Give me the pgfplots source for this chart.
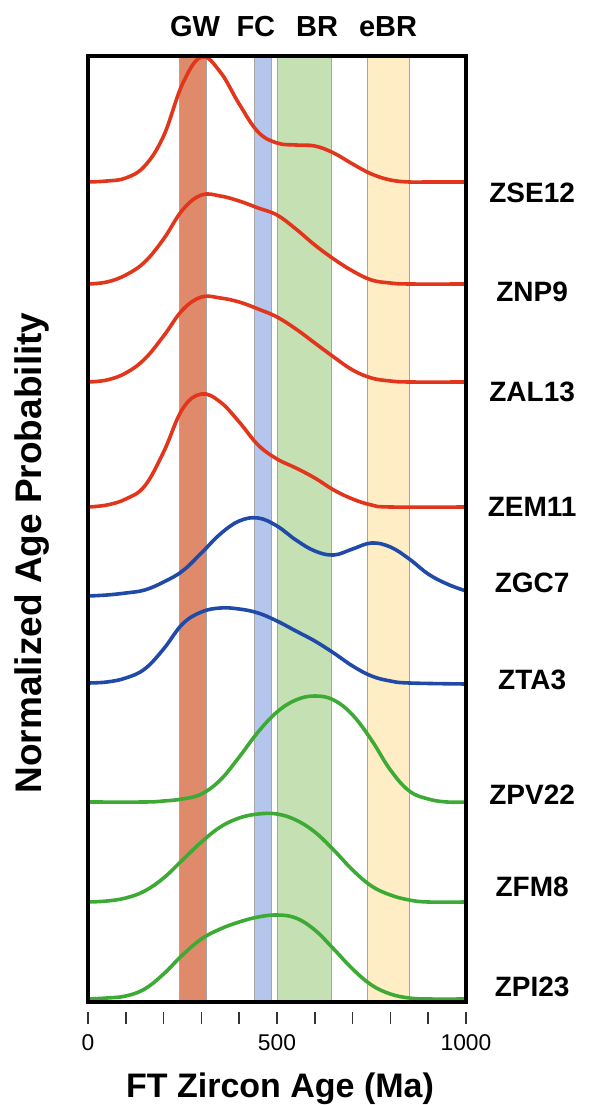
\documentclass[border=0pt]{standalone}
\usepackage{fontspec}
\setmainfont{Liberation Sans}
\usepackage{pgfplots}
\pgfplotsset{compat=1.18}

\definecolor{curvered}{HTML}{E2361C}
\definecolor{curveblue}{HTML}{1F4AA8}
\definecolor{curvegreen}{HTML}{3DAA35}
\definecolor{bandGW}{HTML}{E08A6C}
\definecolor{bandFC}{HTML}{B4C6EC}
\definecolor{bandBR}{HTML}{C5E1B4}
\definecolor{bandeBR}{HTML}{FFEDC6}

\begin{document}
\begin{tikzpicture}
\begin{axis}[
    scale only axis,
    width=189pt, height=473pt,
    xmin=0, xmax=1000, ymin=0, ymax=946,
    axis line style={line width=1.6pt},
    xtick={0,100,...,1000},
    xticklabels={0,,,,,500,,,,,1000},
    xtick pos=lower,
    ytick=\empty,
    tick align=outside,
    major tick length=6pt,
    xtick style={line width=0.8pt, black!80, yshift=-5pt},
    xticklabel style={font=\fontsize{11.4}{12}\selectfont, yshift=-7pt},
    clip=false,
    axis on top,
    curve/.style={smooth, tension=0.65, line width=1.8pt, no markers},
    band/.style={draw=black!35, line width=0.4pt},
]
% age bands
\addplot[band, fill=bandGW] coordinates {(243,0) (243,946) (312,946) (312,0)} -- cycle;
\addplot[band, fill=bandFC] coordinates {(439,0) (439,946) (484,946) (484,0)} -- cycle;
\addplot[band, fill=bandBR] coordinates {(500,0) (500,946) (643,946) (643,0)} -- cycle;
\addplot[band, fill=bandeBR] coordinates {(738,0) (738,946) (849,946) (849,0)} -- cycle;

% ZSE12
\addplot[curve, curvered] coordinates {
 (0,820) (50,821) (100,824) (150,836) (200,866) (250,918) (300,945) (350,930)
 (400,898) (450,870) (500,859) (550,857) (600,856) (650,849) (700,838) (750,828)
 (800,822) (850,820) (900,820) (1000,820)};
% ZNP9
\addplot[curve, curvered] coordinates {
 (0,718) (50,720) (100,727) (150,740) (200,763) (250,792) (300,807) (350,806)
 (400,801) (450,794) (500,787) (550,773) (600,757) (650,743) (700,731) (750,722)
 (800,719) (850,718) (1000,718)};
% ZAL13
\addplot[curve, curvered] coordinates {
 (0,620) (50,622) (100,629) (150,643) (200,666) (250,692) (300,705) (350,704)
 (400,700) (450,693) (500,685) (550,673) (600,659) (650,645) (700,632) (750,624)
 (800,621) (850,620) (1000,620)};
% ZEM11
\addplot[curve, curvered] coordinates {
 (0,495) (50,497) (100,503) (150,516) (200,550) (250,593) (300,608) (350,600)
 (400,580) (450,557) (500,543) (550,534) (600,524) (650,512) (700,503) (750,497)
 (800,495) (1000,495)};
% ZGC7
\addplot[curve, curveblue] coordinates {
 (0,406) (50,407) (100,409) (150,412) (200,420) (250,431) (300,449) (350,468)
 (400,481) (450,484) (500,476) (550,462) (600,451) (650,447) (700,453) (750,459)
 (800,455) (850,443) (900,428) (950,418) (1000,411)};
% ZTA3
\addplot[curve, curveblue] coordinates {
 (0,319) (50,320) (100,324) (150,333) (200,353) (250,378) (300,390) (350,394)
 (400,393) (450,389) (500,381) (550,371) (600,361) (650,349) (700,336) (750,326)
 (800,321) (850,319) (1000,318)};
% ZPV22
\addplot[curve, curvegreen] coordinates {
 (0,200) (150,200) (200,201) (250,203) (300,208) (350,222) (400,245) (450,270)
 (500,290) (550,302) (600,306) (650,302) (700,287) (750,262) (800,232) (850,211)
 (900,203) (950,200) (1000,200)};
% ZFM8
\addplot[curve, curvegreen] coordinates {
 (0,100) (50,101) (100,104) (150,111) (200,124) (250,142) (300,160) (350,175)
 (400,184) (450,188) (500,188) (550,182) (600,170) (650,152) (700,132) (750,116)
 (800,107) (850,102) (900,100) (1000,100)};
% ZPI23
\addplot[curve, curvegreen] coordinates {
 (0,3) (50,4) (100,6) (150,13) (200,28) (250,47) (300,63) (350,73)
 (400,80) (450,85) (500,87) (550,84) (600,72) (650,53) (700,33) (750,17)
 (800,8) (850,4) (900,3) (1000,3)};

% band names
\begin{scope}[every node/.style={font=\bfseries\fontsize{14.5}{15}\selectfont}]
\node at (axis cs:283,975) {GW};
\node at (axis cs:444,975) {FC};
\node at (axis cs:606,975) {BR};
\node at (axis cs:794,975) {eBR};
\end{scope}

% sample names
\begin{scope}[every node/.style={font=\bfseries\fontsize{14}{15}\selectfont}]
\node at (axis cs:1175,809) {ZSE12};
\node at (axis cs:1175,710) {ZNP9};
\node at (axis cs:1175,610) {ZAL13};
\node at (axis cs:1175,495) {ZEM11};
\node at (axis cs:1175,419) {ZGC7};
\node at (axis cs:1175,322) {ZTA3};
\node at (axis cs:1175,207) {ZPV22};
\node at (axis cs:1175,115) {ZFM8};
\node at (axis cs:1175,15) {ZPI23};
\end{scope}

\node[rotate=90, font=\bfseries\fontsize{18.5}{20}\selectfont] at (axis cs:-148,449) {Normalized Age Probability};
\node[font=\bfseries\fontsize{17}{18}\selectfont] at (axis cs:508,-87) {FT Zircon Age (Ma)};
\end{axis}
\pgfresetboundingbox
\path[use as bounding box] (-44pt,-51.5pt) rectangle (253pt,501pt);
\end{tikzpicture}
\end{document}
